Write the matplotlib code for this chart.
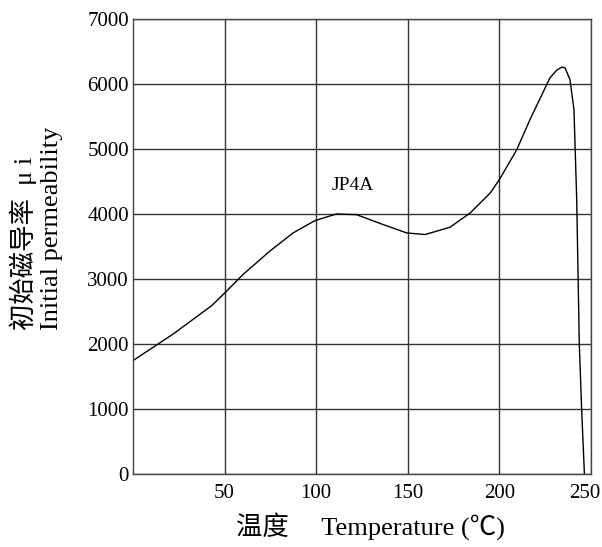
import numpy as np
import matplotlib.pyplot as plt
from matplotlib.transforms import ScaledTranslation

# Courbe de perméabilité initiale JP4A
temp = [0, 21.9, 42.8, 50.3, 60.1, 74.7, 87.4, 99.3, 111, 122, 136.6, 149.4, 159.4,
        173, 184, 195, 200, 209.5, 216.7, 227.6, 231.3, 234, 235.8, 238.5, 240.7,
        242.2, 243.6, 244.9, 246.4]
mu_i = [1745, 2153, 2587, 2791, 3071, 3429, 3709, 3898, 4000, 3990, 3837, 3709, 3684,
        3796, 4015, 4323, 4529, 4991, 5453, 6095, 6213, 6259, 6249, 6069, 5607,
        4221, 2013, 986, 0]

x_ticks = [50, 100, 150, 200, 250]
y_ticks = [0, 1000, 2000, 3000, 4000, 5000, 6000, 7000]

fonts = ['Liberation Serif', 'Noto Sans CJK SC', 'DejaVu Sans']
plt.rcParams['font.family'] = fonts

W, H = 602, 547
fig = plt.figure(figsize=(W / 100, H / 100), dpi=100)
ax = fig.add_axes([133 / W, 1 - 474 / H, (591 - 133) / W, (474 - 19) / H])

ax.plot(temp, mu_i, color='black', lw=1.0)
ax.text(120, 4440, 'JP4A', fontsize=14, ha='center', va='center')

ax.set_xlim(0, 250)
ax.set_ylim(0, 7000)
ax.set_xticks(x_ticks)
ax.set_yticks(y_ticks)
ax.tick_params(length=0, labelsize=15)
ax.tick_params(axis='x', pad=7)
ax.tick_params(axis='y', pad=3)
ax.grid(True, color='#333333', lw=1.0)
for s in ax.spines.values():
    s.set_color('#444444')
    s.set_linewidth(1.0)

# décaler le dernier label pour qu'il reste dans la figure
lbl = ax.get_xticklabels()[-1]
lbl.set_transform(lbl.get_transform() + ScaledTranslation(-6 / 100, 0, fig.dpi_scale_trans))

# titres des axes
fig.text(370 / W, 1 - 527 / H, '温度\u3000 Temperature (℃)', fontsize=19,
         ha='center', va='center', fontweight='light')
fig.text(23 / W, 1 - 330 / H, '初始磁导率  μ i', fontsize=19, rotation=90,
         ha='center', va='bottom', fontweight='light')
fig.text(52 / W, 1 - 330 / H, 'Initial permeability', fontsize=19, rotation=90,
         ha='center', va='bottom')

fig.savefig('out.png', dpi=100)
